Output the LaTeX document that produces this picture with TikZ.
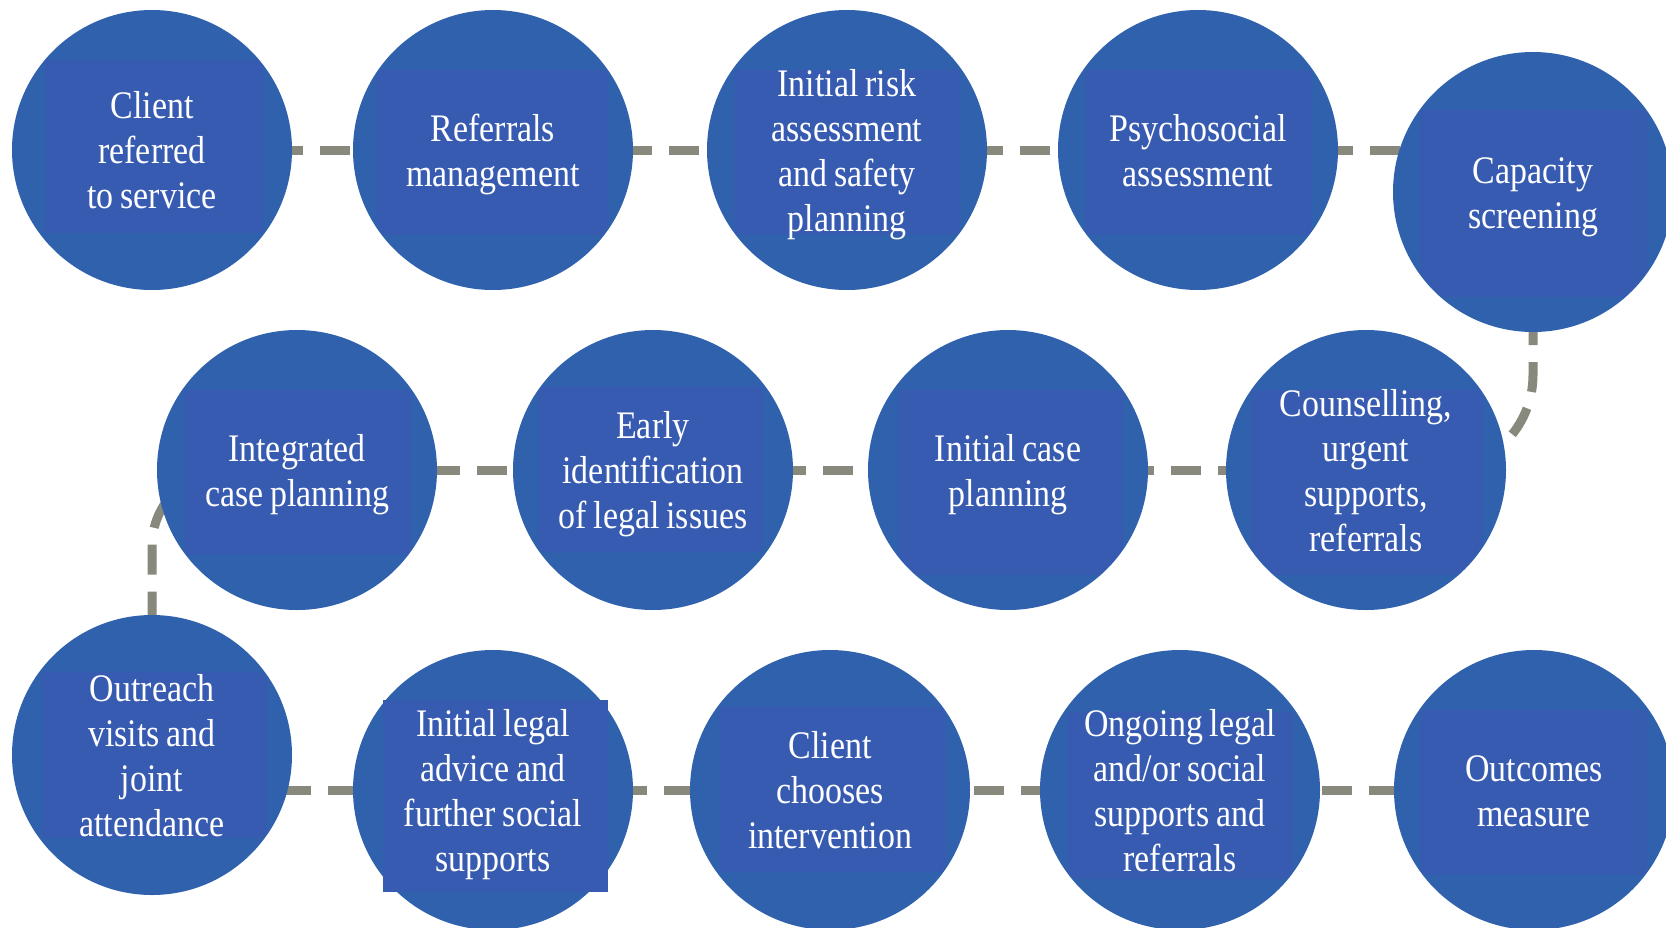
\documentclass[tikz,border=0pt]{standalone}
\usepackage{fontspec}
\setmainfont{Liberation Serif}[FakeStretch=0.87,WordSpace=0.8]
\usetikzlibrary{calc,backgrounds}
\definecolor{circc}{RGB}{47,97,173}
\definecolor{rectc}{RGB}{56,91,178}
\definecolor{linec}{RGB}{136,136,124}
\begin{document}
\begin{tikzpicture}[x=1pt,y=-1pt,
  circ/.style={circle,fill=circc,minimum size=280pt,inner sep=0pt,draw=none},
  lbl/.style={anchor=north,inner sep=0pt,text=white,align=center,font=\fontsize{39}{45}\selectfont},
  conn/.style={draw=linec,line width=9pt,dash pattern=on 30pt off 17pt},
  panel/.style={fill=rectc}
]
\useasboundingbox (0,0) rectangle (1666,927);
% circles
\node[circ] (c1) at (152,150) {};
\node[circ] (c2) at (493,150) {};
\node[circ] (c3) at (847,150) {};
\node[circ] (c4) at (1198,150) {};
\node[circ] (c5) at (1533,192) {};
\node[circ] (c6) at (297,470) {};
\node[circ] (c7) at (653,470) {};
\node[circ] (c8) at (1008,470) {};
\node[circ] (c9) at (1366,470) {};
\node[circ] (c10) at (152,755) {};
\node[circ] (c11) at (493,790) {};
\node[circ] (c12) at (830,790) {};
\node[circ] (c13) at (1180,790) {};
\node[circ] (c14) at (1534,790) {};
% inner panels (clipped to their circles)
\begin{scope}\clip (c1.center) circle[radius=139pt];
\fill[panel] ($(c1.center)+(-107,-90)$) rectangle ($(c1.center)+(111,83)$);\end{scope}
\begin{scope}\clip (c2.center) circle[radius=139pt];
\fill[panel] ($(c2.center)+(-117,-80)$) rectangle ($(c2.center)+(115,85)$);\end{scope}
\begin{scope}\clip (c3.center) circle[radius=139pt];
\fill[panel] ($(c3.center)+(-113,-80)$) rectangle ($(c3.center)+(113,85)$);\end{scope}
\begin{scope}\clip (c4.center) circle[radius=139pt];
\fill[panel] ($(c4.center)+(-113,-80)$) rectangle ($(c4.center)+(114,85)$);\end{scope}
\begin{scope}\clip (c5.center) circle[radius=139pt];
\fill[panel] ($(c5.center)+(-113,-82)$) rectangle ($(c5.center)+(114,105)$);\end{scope}
\begin{scope}\clip (c6.center) circle[radius=139pt];
\fill[panel] ($(c6.center)+(-113,-80)$) rectangle ($(c6.center)+(114,85)$);\end{scope}
\begin{scope}\clip (c7.center) circle[radius=139pt];
\fill[panel] ($(c7.center)+(-115,-83)$) rectangle ($(c7.center)+(110,82)$);\end{scope}
\begin{scope}\clip (c8.center) circle[radius=139pt];
\fill[panel] ($(c8.center)+(-110,-80)$) rectangle ($(c8.center)+(115,105)$);\end{scope}
\begin{scope}\clip (c9.center) circle[radius=139pt];
\fill[panel] ($(c9.center)+(-115,-80)$) rectangle ($(c9.center)+(117,105)$);\end{scope}
\begin{scope}\clip (c10.center) circle[radius=139pt];
\fill[panel] ($(c10.center)+(-110,-83)$) rectangle ($(c10.center)+(115,83)$);\end{scope}
\fill[panel] ($(c11.center)+(-110,-90)$) rectangle ($(c11.center)+(115,102)$);
\begin{scope}\clip (c12.center) circle[radius=139pt];
\fill[panel] ($(c12.center)+(-111,-83)$) rectangle ($(c12.center)+(116,82)$);\end{scope}
\begin{scope}\clip (c13.center) circle[radius=139pt];
\fill[panel] ($(c13.center)+(-112,-78)$) rectangle ($(c13.center)+(113,89)$);\end{scope}
\begin{scope}\clip (c14.center) circle[radius=139pt];
\fill[panel] ($(c14.center)+(-114,-80)$) rectangle ($(c14.center)+(113,85)$);\end{scope}
% labels
\node[lbl] (t1) at ($(c1.center)+(0,-59.5)$) {\rule{0pt}{28pt}Client\\referred\\to service};
\node[lbl] (t2) at ($(c2.center)+(0,-37)$) {\rule{0pt}{28pt}Referrals\\management};
\node[lbl] (t3) at ($(c3.center)+(0,-82)$) {\rule{0pt}{28pt}Initial risk\\assessment\\and safety\\planning};
\node[lbl] (t4) at ($(c4.center)+(0,-37)$) {\rule{0pt}{28pt}Psychosocial\\assessment};
\node[lbl] (t5) at ($(c5.center)+(0,-37)$) {\rule{0pt}{28pt}Capacity\\screening};
\node[lbl] (t6) at ($(c6.center)+(0,-37)$) {\rule{0pt}{28pt}Integrated\\case planning};
\node[lbl] (t7) at ($(c7.center)+(0,-59.5)$) {\rule{0pt}{28pt}Early\\identification\\of legal issues};
\node[lbl] (t8) at ($(c8.center)+(0,-37)$) {\rule{0pt}{28pt}Initial case\\planning};
\node[lbl] (t9) at ($(c9.center)+(0,-82)$) {\rule{0pt}{28pt}Counselling,\\urgent\\supports,\\referrals};
\node[lbl] (t10) at ($(c10.center)+(0,-82)$) {\rule{0pt}{28pt}Outreach\\visits and\\joint\\attendance};
\node[lbl] (t11) at ($(c11.center)+(0,-82)$) {\rule{0pt}{28pt}Initial legal\\advice and\\further social\\supports};
\node[lbl] (t12) at ($(c12.center)+(0,-59.5)$) {\rule{0pt}{28pt}Client\\chooses\\intervention};
\node[lbl] (t13) at ($(c13.center)+(0,-82)$) {\rule{0pt}{28pt}Ongoing legal\\and/or social\\supports and\\referrals};
\node[lbl] (t14) at ($(c14.center)+(0,-37)$) {\rule{0pt}{28pt}Outcomes\\measure};
% connectors behind
\begin{scope}[on background layer]
\fill[white] (0,0) rectangle (1666,927);
\draw[conn,dash phase=20pt] (c1.center) -- (c2.center);
\draw[conn,dash phase=12pt] (c2.center) -- (c3.center);
\draw[conn,dash phase=15pt] (c3.center) -- (c4.center);
\draw[conn,dash phase=16pt] (c4.center) -- (c4.center -| c5.center);
\draw[conn,rounded corners=95pt,dash phase=18pt] (c5.center) -- (c5.center |- c9.center) -- (c9.center);
\draw[conn,dash phase=25pt] (c8.center) -- (c9.center);
\draw[conn,dash phase=18pt] (c7.center) -- (c8.center);
\draw[conn,dash phase=8pt] (c6.center) -- (c7.center);
\draw[conn,rounded corners=76pt,dash phase=1pt] (c6.center) -- (c6.center -| c10.center) -- (c10.center);
\draw[conn,dash phase=12pt] (c10.center |- c11.center) -- (c11.center);
\draw[conn,dash phase=17pt] (c11.center) -- (c12.center);
\draw[conn,dash phase=44pt] (c12.center) -- (c13.center);
\draw[conn,dash phase=46pt] (c13.center) -- (c14.center);
\end{scope}
\end{tikzpicture}
\end{document}
